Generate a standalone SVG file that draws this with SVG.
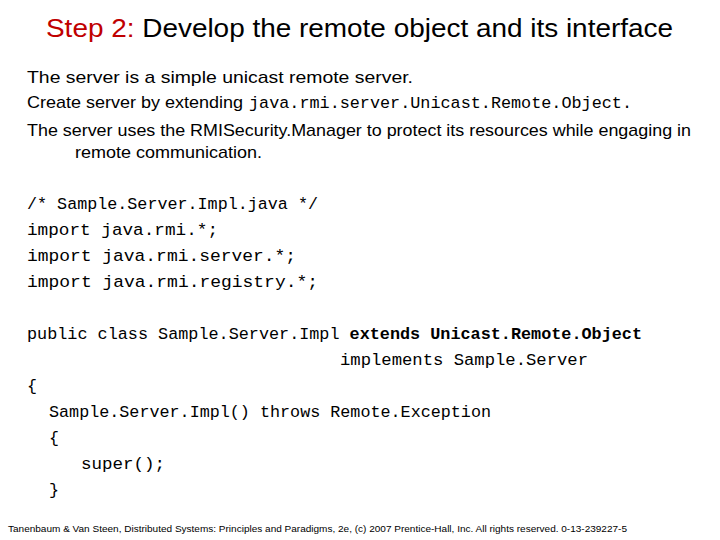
<svg xmlns="http://www.w3.org/2000/svg" width="720" height="540" viewBox="0 0 720 540">
<style>
.s{font-family:"Liberation Sans",Arial,sans-serif;fill:#000}
.m{font-family:"Liberation Mono","Courier New",monospace;font-size:16.7px;fill:#000}
.b{font-weight:bold}
</style>
<rect width="720" height="540" fill="#fff"/>
<text class="s" x="46" y="37" font-size="26" textLength="627" lengthAdjust="spacingAndGlyphs"><tspan fill="#c00000">Step 2:</tspan> Develop the remote object and its interface</text>
<text class="s" x="27" y="83" font-size="17" textLength="386" lengthAdjust="spacingAndGlyphs">The server is a simple unicast remote server.</text>
<text class="s" x="27" y="108" font-size="17" textLength="216" lengthAdjust="spacingAndGlyphs">Create server by extending</text>
<text class="m" x="249" y="108" textLength="383" lengthAdjust="spacingAndGlyphs">java.rmi.server.Unicast.Remote.Object.</text>
<text class="s" x="27" y="136" font-size="17" textLength="664" lengthAdjust="spacingAndGlyphs">The server uses the RMISecurity.Manager to protect its resources while engaging in</text>
<text class="s" x="75" y="158" font-size="17" textLength="187" lengthAdjust="spacingAndGlyphs">remote communication.</text>
<text class="m" x="27" y="209" textLength="291" lengthAdjust="spacingAndGlyphs">/* Sample.Server.Impl.java */</text>
<text class="m" x="27" y="235" textLength="191" lengthAdjust="spacingAndGlyphs">import java.rmi.*;</text>
<text class="m" x="27" y="261" textLength="269" lengthAdjust="spacingAndGlyphs">import java.rmi.server.*;</text>
<text class="m" x="27" y="287" textLength="291" lengthAdjust="spacingAndGlyphs">import java.rmi.registry.*;</text>
<text class="m" x="27" y="339" textLength="615" lengthAdjust="spacingAndGlyphs">public class Sample.Server.Impl <tspan class="b">extends Unicast.Remote.Object</tspan></text>
<text class="m" x="340" y="365" textLength="248" lengthAdjust="spacingAndGlyphs">implements Sample.Server</text>
<text class="m" x="27" y="391">{</text>
<text class="m" x="49" y="417" textLength="442" lengthAdjust="spacingAndGlyphs">Sample.Server.Impl() throws Remote.Exception</text>
<text class="m" x="49" y="443">{</text>
<text class="m" x="81" y="469" textLength="84" lengthAdjust="spacingAndGlyphs">super();</text>
<text class="m" x="49" y="495">}</text>
<text class="s" x="8" y="532" font-size="9.5" textLength="619" lengthAdjust="spacingAndGlyphs">Tanenbaum &amp; Van Steen, Distributed Systems: Principles and Paradigms, 2e, (c) 2007 Prentice-Hall, Inc. All rights reserved. 0-13-239227-5</text>
</svg>
